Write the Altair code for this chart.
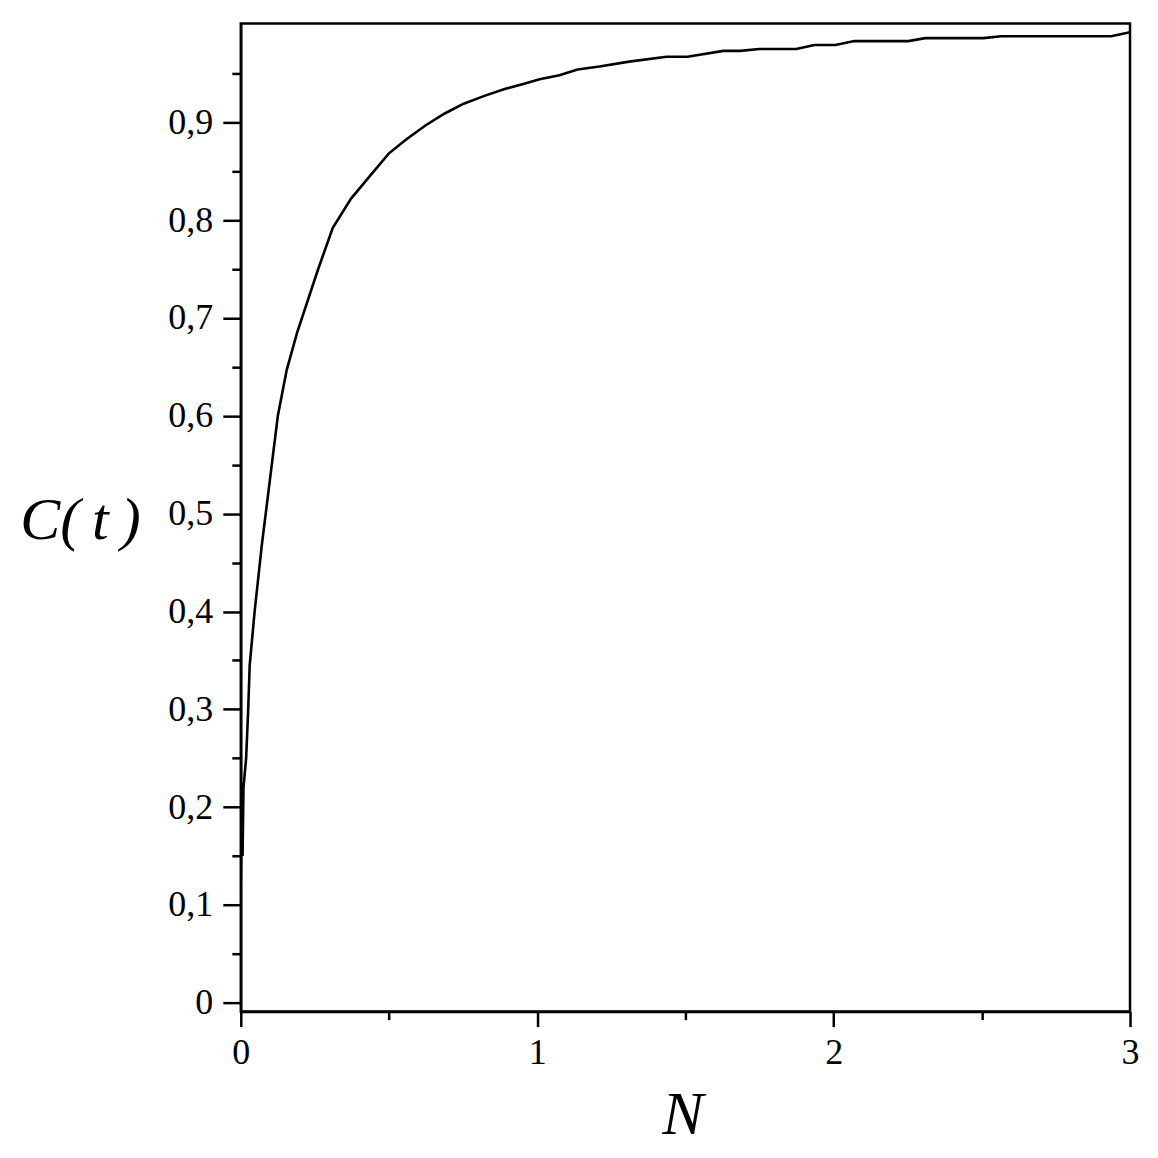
import altair as alt
import pandas as pd

N_vals = [0, 0.004, 0.006, 0.009, 0.018, 0.025, 0.03, 0.047, 0.071, 0.098, 0.125, 0.155,
          0.19, 0.26, 0.31, 0.372, 0.438, 0.499, 0.56, 0.624, 0.688, 0.752, 0.822, 0.89,
          0.95, 1.008, 1.075, 1.136, 1.21, 1.31, 1.436, 1.507, 1.628, 1.685, 1.749, 1.874,
          1.935, 2.006, 2.07, 2.252, 2.309, 2.505, 2.565, 2.936, 3.0]
C_vals = [0.125, 0.225, 0.15, 0.22, 0.25, 0.30, 0.345, 0.401, 0.468, 0.534, 0.60, 0.647,
          0.685, 0.749, 0.792, 0.822, 0.846, 0.868, 0.883, 0.897, 0.909, 0.919, 0.927, 0.934,
          0.939, 0.944, 0.948, 0.954, 0.957, 0.962, 0.967, 0.967, 0.973, 0.973, 0.975, 0.975,
          0.979, 0.979, 0.983, 0.983, 0.986, 0.986, 0.988, 0.988, 0.992]

x_ticks = [0, 0.5, 1, 1.5, 2, 2.5, 3]
y_ticks = [round(i * 0.05, 2) for i in range(20)]

df = pd.DataFrame({"N": N_vals, "C": C_vals, "i": list(range(len(N_vals)))})

FONT = "Liberation Serif"

y_major_test = "abs(datum.value*10 - round(datum.value*10)) < 0.001"

chart = alt.Chart(df).mark_line(color="black", strokeWidth=2.6, clip=True).encode(
    x=alt.X(
        "N:Q",
        scale=alt.Scale(domain=[0, 3], nice=False, zero=False),
        axis=alt.Axis(
            values=x_ticks,
            grid=False,
            title="N",
            titleFont=FONT,
            titleFontSize=62,
            titleFontStyle="italic",
            titleFontWeight="normal",
            titleColor="black",
            titleX=442,
            titleY=122,
            titleBaseline="alphabetic",
            titleAlign="center",
            labelFont=FONT,
            labelFontSize=36,
            labelColor="black",
            labelPadding=9,
            labelExpr="datum.value % 1 == 0 ? format(datum.value, 'd') : ''",
            tickColor="black",
            tickWidth=2.5,
            tickSize={"condition": {"test": "datum.value % 1 == 0", "value": 15}, "value": 8},
            domainColor="black",
            domainWidth=2.5,
            labelFlush=False,
        ),
    ),
    y=alt.Y(
        "C:Q",
        scale=alt.Scale(domain=[-0.009, 1.001], nice=False, zero=False),
        axis=alt.Axis(
            values=y_ticks,
            grid=False,
            title="C(\u2009t\u2009)",
            titleFont=FONT,
            titleFontSize=60,
            titleFontStyle="italic",
            titleFontWeight="normal",
            titleColor="black",
            titleAngle=0,
            titleX=-161,
            titleY=515,
            titleBaseline="alphabetic",
            titleAlign="center",
            labelFont=FONT,
            labelFontSize=36,
            labelColor="black",
            labelPadding=10,
            labelExpr="datum.value == 0 ? '0' : (" + y_major_test +
                      " ? replace(format(datum.value, '.1f'), '.', ',') : '')",
            tickColor="black",
            tickWidth=2.5,
            tickSize={"condition": {"test": y_major_test, "value": 18}, "value": 9},
            domainColor="black",
            domainWidth=2.5,
            labelFlush=False,
        ),
    ),
    order="i:Q",
).properties(
    width=890,
    height=989,
    autosize=alt.AutoSizeParams(type="none"),
    padding={"left": 233, "top": 15, "right": 20, "bottom": 140},
).configure_view(
    stroke="black",
    strokeWidth=2.5,
)

chart.save("out.html", embed_options={"renderer": "svg", "actions": False})
